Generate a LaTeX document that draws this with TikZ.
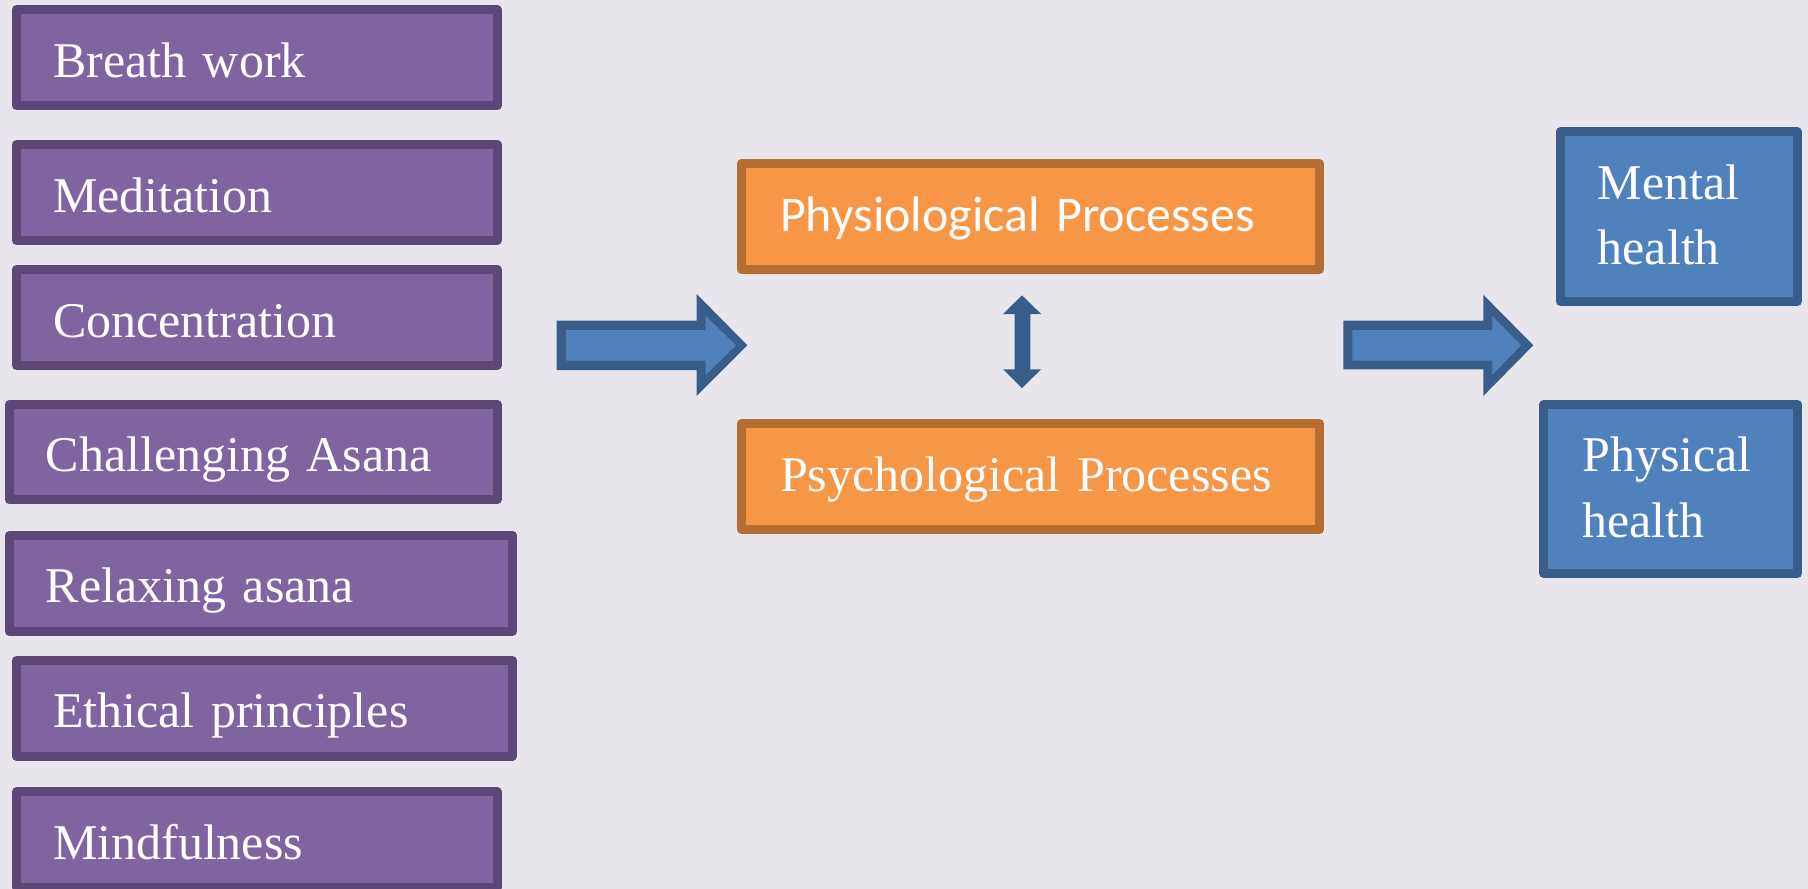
\documentclass[tikz,border=0pt]{standalone}
\usepackage{fontspec}
\setmainfont{Liberation Serif}
\newfontfamily\calib{Carlito}
\definecolor{bgc}{HTML}{E9E5EC}
\definecolor{purf}{HTML}{8064A2}
\definecolor{purd}{HTML}{5C4776}
\definecolor{oraf}{HTML}{F79646}
\definecolor{orad}{HTML}{B66D31}
\definecolor{bluf}{HTML}{4F81BD}
\definecolor{blud}{HTML}{385D8A}
\tikzset{
  boxbase/.style={rectangle, line width=9pt, line join=round, outer sep=0pt,
    inner ysep=0pt, anchor=north west, align=left, text=white,
    font=\fontsize{50}{65.7}\selectfont},
  pbox/.style={boxbase, draw=purd, fill=purf, inner xsep=36.5pt,
    text height=39pt, text depth=0pt},
  obox/.style={boxbase, draw=orad, fill=oraf, inner xsep=39pt,
    text height=30pt, text depth=0pt, text width=500.6pt, minimum height=105.5pt},
  bbox/.style={boxbase, draw=blud, fill=bluf,
    text height=39pt, text depth=74pt},
  arrout/.style={fill=blud},
  arrin/.style={fill=bluf}
}
\begin{document}
\begin{tikzpicture}[x=1pt,y=-1pt]
\fill[bgc] (0,0) rectangle (1808,889);
\useasboundingbox (0,0) rectangle (1808,889);

% left column
\node[pbox, text width=407.6pt, minimum height=96pt] (bw) at (16.5,9.5) {Breath work};
\node[pbox, text width=407.6pt, minimum height=96pt] (med) at (16.5,144.5) {Meditation};
\node[pbox, text width=407.6pt, minimum height=96pt] (con) at (16.5,269.5) {Concentration};
\node[pbox, text width=414.9pt, minimum height=95.3pt] (cha) at (9.2,404.5) {Challenging Asana};
\node[pbox, text width=430.5pt, minimum height=95.7pt] (rel) at (9.2,535.5) {Relaxing asana};
\node[pbox, text width=423pt, minimum height=95.7pt] (eth) at (16.5,660.5) {Ethical principles};
\node[pbox, text width=407.6pt, minimum height=96pt] (mnd) at (16.5,791.8) {Mindfulness};

% middle
\node[obox, font=\calib\fontsize{50}{60}\selectfont] (phy) at (741.1,163.8) {Physiological Processes};
\node[obox] (psy) at (741.1,423.8) {Psychological Processes};

% right
\node[bbox, inner xsep=37.5pt, text width=162pt, minimum height=169.7pt] (men) at (1560.2,131.8) {Mental\\health};
\node[bbox, inner xsep=38.5pt, text width=176.7pt, minimum height=169pt] (phh) at (1543.8,404.5) {Physical\\health};

% left block arrow
\fill[arrout] (556.7,320.7) -- (696.7,320.7) -- (696.7,294) -- (747.3,345.3)
  -- (696.7,396) -- (696.7,370) -- (556.7,370) -- cycle;
\fill[arrin] (566,330) -- (705.7,330) -- (705.7,316) -- (736,345.3)
  -- (705.7,375) -- (705.7,360.7) -- (566,360.7) -- cycle;

% double arrow between processes
\fill[blud] (1022,295.3) -- (1041.1,314) -- (1030.4,314) -- (1030.4,369.3)
  -- (1041.1,369.3) -- (1022,388) -- (1003.1,369.3) -- (1014.6,369.3)
  -- (1014.6,314) -- (1003.1,314) -- cycle;

% right block arrow
\fill[arrout] (1343.3,320.7) -- (1483.3,320.7) -- (1483.3,294.7) -- (1533.3,345.3)
  -- (1483.3,396) -- (1483.3,369.3) -- (1343.3,369.3) -- cycle;
\fill[arrin] (1352.3,330) -- (1492.3,330) -- (1492.3,316) -- (1521,345.3)
  -- (1492.3,375) -- (1492.3,360.7) -- (1352.3,360.7) -- cycle;
\end{tikzpicture}
\end{document}
